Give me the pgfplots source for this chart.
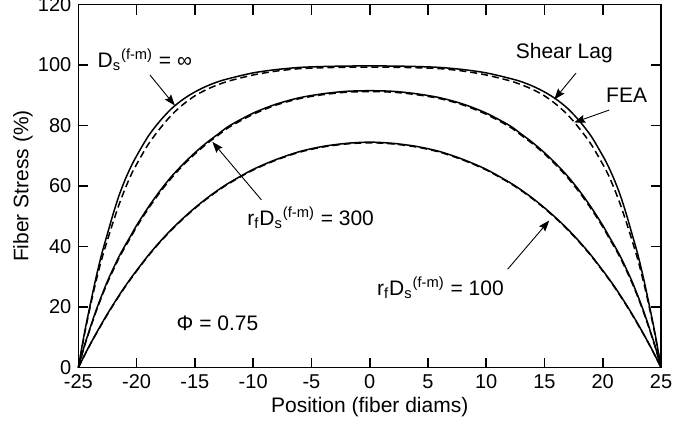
\documentclass[border=0pt]{standalone}
\usepackage{fontspec}
\setmainfont{Liberation Sans}
\usepackage{pgfplots}
\pgfplotsset{compat=1.18}
\usepackage{pgfplotstable}
\usetikzlibrary{arrows.meta,calc}

% fiber stress (%) along the fiber: shear lag (solid) and FEA (dashed)
\pgfplotstableread{
x     top    topfea  mid    midfea  bot   botfea
-25   0      0       0      0       0     0
-24.5 11     10.5    7      6.8     3.9   3.8
-24   20.5   19.8    13     12.7    7.6   7.5
-23.5 29.5   28.3    18.7   18.3    11.1  11.0
-23   37.5   35.8    23.8   23.4    14.5  14.3
-22.5 44.3   42.2    28.6   28.1    17.8  17.6
-22   51     48.3    32.8   32.3    20.9  20.7
-21.5 57     54      36.8   36.3    23.9  23.7
-21   62     59      40.3   39.8    26.8  26.6
-20.5 66.3   63.5    43.6   43.1    29.5  29.3
-20   70     67.2    47     46.5    32.1  31.9
-19   76.5   73.8    53     52.5    37.1  36.9
-18   81.5   79      58.4   57.9    41.6  41.4
-17   85.6   83.5    63.2   62.7    45.7  45.5
-16   88.7   87      67.3   66.9    49.4  49.2
-15   91.1   89.8    71.0   70.6    52.8  52.6
-14   93     91.9    74.3   73.9    55.9  55.7
-13   94.5   93.5    77.2   76.8    58.7  58.5
-12   95.6   94.8    80.0   79.6    61.2  61.0
-10   97.4   96.7    84.1   83.7    65.5  65.3
-8    98.5   98.0    87.1   86.8    68.8  68.6
-6    99.2   98.8    89.2   88.9    71.4  71.2
-4    99.5   99.1    90.5   90.2    73.1  72.9
-2    99.65  99.25   91.3   91.0    74.1  73.9
0     99.7   99.3    91.5   91.2    74.5  74.3
2     99.65  99.25   91.3   91.0    74.1  73.9
4     99.5   99.1    90.5   90.2    73.1  72.9
6     99.2   98.8    89.2   88.9    71.4  71.2
8     98.5   98.0    87.1   86.8    68.8  68.6
10    97.4   96.7    84.1   83.7    65.5  65.3
12    95.6   94.8    80.0   79.6    61.2  61.0
13    94.5   93.5    77.2   76.8    58.7  58.5
14    93     91.9    74.3   73.9    55.9  55.7
15    91.1   89.8    71.0   70.6    52.8  52.6
16    88.7   87      67.3   66.9    49.4  49.2
17    85.6   83.5    63.2   62.7    45.7  45.5
18    81.5   79      58.4   57.9    41.6  41.4
19    76.5   73.8    53     52.5    37.1  36.9
20    70     67.2    47     46.5    32.1  31.9
20.5  66.3   63.5    43.6   43.1    29.5  29.3
21    62     59      40.3   39.8    26.8  26.6
21.5  57     54      36.8   36.3    23.9  23.7
22    51     48.3    32.8   32.3    20.9  20.7
22.5  44.3   42.2    28.6   28.1    17.8  17.6
23    37.5   35.8    23.8   23.4    14.5  14.3
23.5  29.5   28.3    18.7   18.3    11.1  11.0
24    20.5   19.8    13     12.7    7.6   7.5
24.5  11     10.5    7      6.8     3.9   3.8
25    0      0       0      0       0     0
}\stress

\tikzset{
  sl/.style={black, line width=0.75pt, smooth},
  fea/.style={black, line width=0.75pt, smooth, dash pattern=on 3.5pt off 2pt},
  ann/.style={font=\fontsize{10.5}{12}\selectfont},
  arr/.style={line width=0.45pt, -{Stealth[length=5.5pt,width=4pt,inset=0.8pt]}},
}

\begin{document}
\begin{tikzpicture}
\begin{axis}[
  width=291.3pt, height=181.5pt, scale only axis,
  xmin=-25, xmax=25, ymin=0, ymax=120,
  xtick={-25,-20,...,25}, ytick={0,20,...,120},
  tick align=inside, major tick length=5pt,
  axis line style={line width=0.8pt},
  every tick/.style={black, line width=0.8pt},
  tick label style={font=\fontsize{10}{12}\selectfont},
  /pgf/number format/assume math mode=true,
  label style={font=\fontsize{10.5}{12}\selectfont},
  xlabel={Position (fiber diams)},
  ylabel={Fiber Stress (\%)},
  xlabel style={at={(axis description cs:0.5,-0.108)}, anchor=center},
  ylabel style={at={(axis description cs:-0.095,0.5)}, anchor=center},
  clip=false,
]
\addplot[sl]  table[x=x, y=top]    {\stress};
\addplot[fea] table[x=x, y=topfea] {\stress};
\addplot[sl]  table[x=x, y=mid]    {\stress};
\addplot[fea] table[x=x, y=midfea] {\stress};
\addplot[sl]  table[x=x, y=bot]    {\stress};
\addplot[fea] table[x=x, y=botfea] {\stress};

\node[ann] at (axis cs:-19.3,101.7) {D\textsubscript{s}\textsuperscript{(f-m)} = ∞};
\draw[arr] (axis cs:-18.86,96.7) -- (axis cs:-16.72,86.6);
\node[ann] at (axis cs:16.7,104) {Shear Lag};
\draw[arr] (axis cs:17.7,97.3) -- (axis cs:15.84,88.6);
\node[ann] at (axis cs:22.05,89.9) {FEA};
\draw[arr] (axis cs:20.55,85.1) -- (axis cs:17.55,81);
\node[ann] at (axis cs:-5.07,49.4) {r\textsubscript{f}D\textsubscript{s}\textsuperscript{(f-m)} = 300};
\draw[arr] (axis cs:-9.29,55.4) -- (axis cs:-13.5,74.6);
\node[ann] at (axis cs:6.07,26.3) {r\textsubscript{f}D\textsubscript{s}\textsuperscript{(f-m)} = 100};
\draw[arr] (axis cs:11.84,32.5) -- (axis cs:15.41,48.6);
\node[ann] at (axis cs:-13.06,14.7) {Φ = 0.75};

\coordinate (sw) at (rel axis cs:0,0);
\coordinate (ne) at (rel axis cs:1,1);
\end{axis}
\pgfresetboundingbox
\path[use as bounding box] ($(sw)+(-39.2pt,-28.75pt)$) rectangle ($(ne)+(6pt,2.25pt)$);
\end{tikzpicture}
\end{document}
